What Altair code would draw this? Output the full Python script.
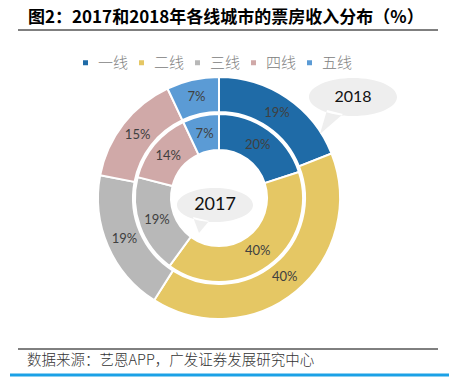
import altair as alt
import pandas as pd

categories = ["一线", "二线", "三线", "四线", "五线"]
values_2018 = [19, 40, 19, 15, 7]
values_2017 = [20, 40, 19, 14, 7]
colors = ["#1f6ba7", "#e5c764", "#b8b8b8", "#d0a9a8", "#5b9bd5"]

title_text = "图2：2017和2018年各线城市的票房收入分布（%）"
source_text = "数据来源：艺恩APP，广发证券发展研究中心"

rows = []
for i, c in enumerate(categories):
    rows.append({"year": "2018", "cat": c, "idx": i, "value": values_2018[i]})
    rows.append({"year": "2017", "cat": c, "idx": i, "value": values_2017[i]})
df = pd.DataFrame(rows)
df["label"] = df["value"].astype(str) + "%"

CX, CY = 209, 190

base = alt.Chart(df)
color = alt.Color(
    "cat:N",
    scale=alt.Scale(domain=categories, range=colors),
    sort=categories,
    legend=alt.Legend(
        title=None, orient="none", legendX=68, legendY=47, direction="horizontal",
        symbolType="square", symbolSize=25, symbolStrokeWidth=0,
        labelFontSize=15, labelColor="#808080", labelFont="Noto Sans CJK SC",
        labelFontWeight=300, labelOffset=5, columnPadding=5,
    ),
)
theta = alt.Theta("value:Q", stack=True)
order = alt.Order("idx:Q")


def ring(year, r_out, r_in, r_lab):
    sub = base.transform_filter(alt.datum.year == year)
    arcs = sub.mark_arc(radius=r_out, radius2=r_in, stroke="white", strokeWidth=2).encode(
        theta=theta, color=color, order=order, x=alt.value(CX), y=alt.value(CY)
    )
    labels = sub.mark_text(radius=r_lab, fontSize=13, color="#404040", font="Lato").encode(
        theta=theta, order=order, text="label:N", x=alt.value(CX), y=alt.value(CY)
    )
    return arcs, labels


o_arcs, o_labels = ring("2018", 121, 86, 103)
i_arcs, i_labels = ring("2017", 84, 48, 66)

one = pd.DataFrame({"a": [0]})


def ellipse_path(rx, ry, tail):
    k = 0.5523
    p = (f"M {rx},0 C {rx},{ry*k} {rx*k},{ry} 0,{ry} "
         f"C {-rx*k},{ry} {-rx},{ry*k} {-rx},0 "
         f"C {-rx},{-ry*k} {-rx*k},{-ry} 0,{-ry} "
         f"C {rx*k},{-ry} {rx},{-ry*k} {rx},0 Z ")
    (x1, y1), (tx, ty), (x2, y2) = tail
    p += f"M {x1},{y1} L {tx},{ty} L {x2},{y2} Z"
    return p


bubble18 = alt.Chart(one).mark_point(
    shape=ellipse_path(44, 19, [(-26, 13), (-33, 37), (-10, 17)]),
    size=4, filled=True, fill="#eeeeee", opacity=1, strokeWidth=0,
).encode(x=alt.value(343), y=alt.value(89))
bubble17 = alt.Chart(one).mark_point(
    shape=ellipse_path(38, 17, [(-22, 12), (-16, 28), (-6, 16)]),
    size=4, filled=True, fill="#eeeeee", opacity=1, strokeWidth=0,
).encode(x=alt.value(205), y=alt.value(197))
t18 = alt.Chart(one).mark_text(text="2018", fontSize=16, color="#111111", font="Lato").encode(
    x=alt.value(343), y=alt.value(89))
t17 = alt.Chart(one).mark_text(text="2017", fontSize=18, color="#111111", font="Lato").encode(
    x=alt.value(205), y=alt.value(197))

title = alt.Chart(one).mark_text(
    text=title_text, align="left", baseline="middle", fontSize=17, fontWeight="bold",
    font="Noto Sans CJK SC", color="#000000",
).encode(x=alt.value(18), y=alt.value(10))
title_rule = alt.Chart(one).mark_rule(color="#000000", strokeWidth=1).encode(
    x=alt.value(8), x2=alt.value(428), y=alt.value(22))
foot_rule = alt.Chart(one).mark_rule(color="#000000", strokeWidth=1).encode(
    x=alt.value(8), x2=alt.value(428), y=alt.value(341))
footer = alt.Chart(one).mark_text(
    text=source_text, align="left", baseline="middle", fontSize=14.5, fontWeight=300,
    font="Noto Sans CJK SC", color="#333333",
).encode(x=alt.value(17), y=alt.value(353))
blue_rule = alt.Chart(one).mark_rule(color="#1ba1e6", strokeWidth=3).encode(
    x=alt.value(0), x2=alt.value(441), y=alt.value(367))

chart = alt.layer(
    o_arcs, i_arcs, o_labels, i_labels, bubble18, bubble17, t18, t17,
    title, title_rule, foot_rule, footer, blue_rule,
).properties(
    width=441, height=369, padding=0,
    autosize=alt.AutoSizeParams(type="fit", contains="padding"),
).configure_view(stroke=None)

chart.save("out.html", embed_options={"renderer": "svg", "actions": False})
